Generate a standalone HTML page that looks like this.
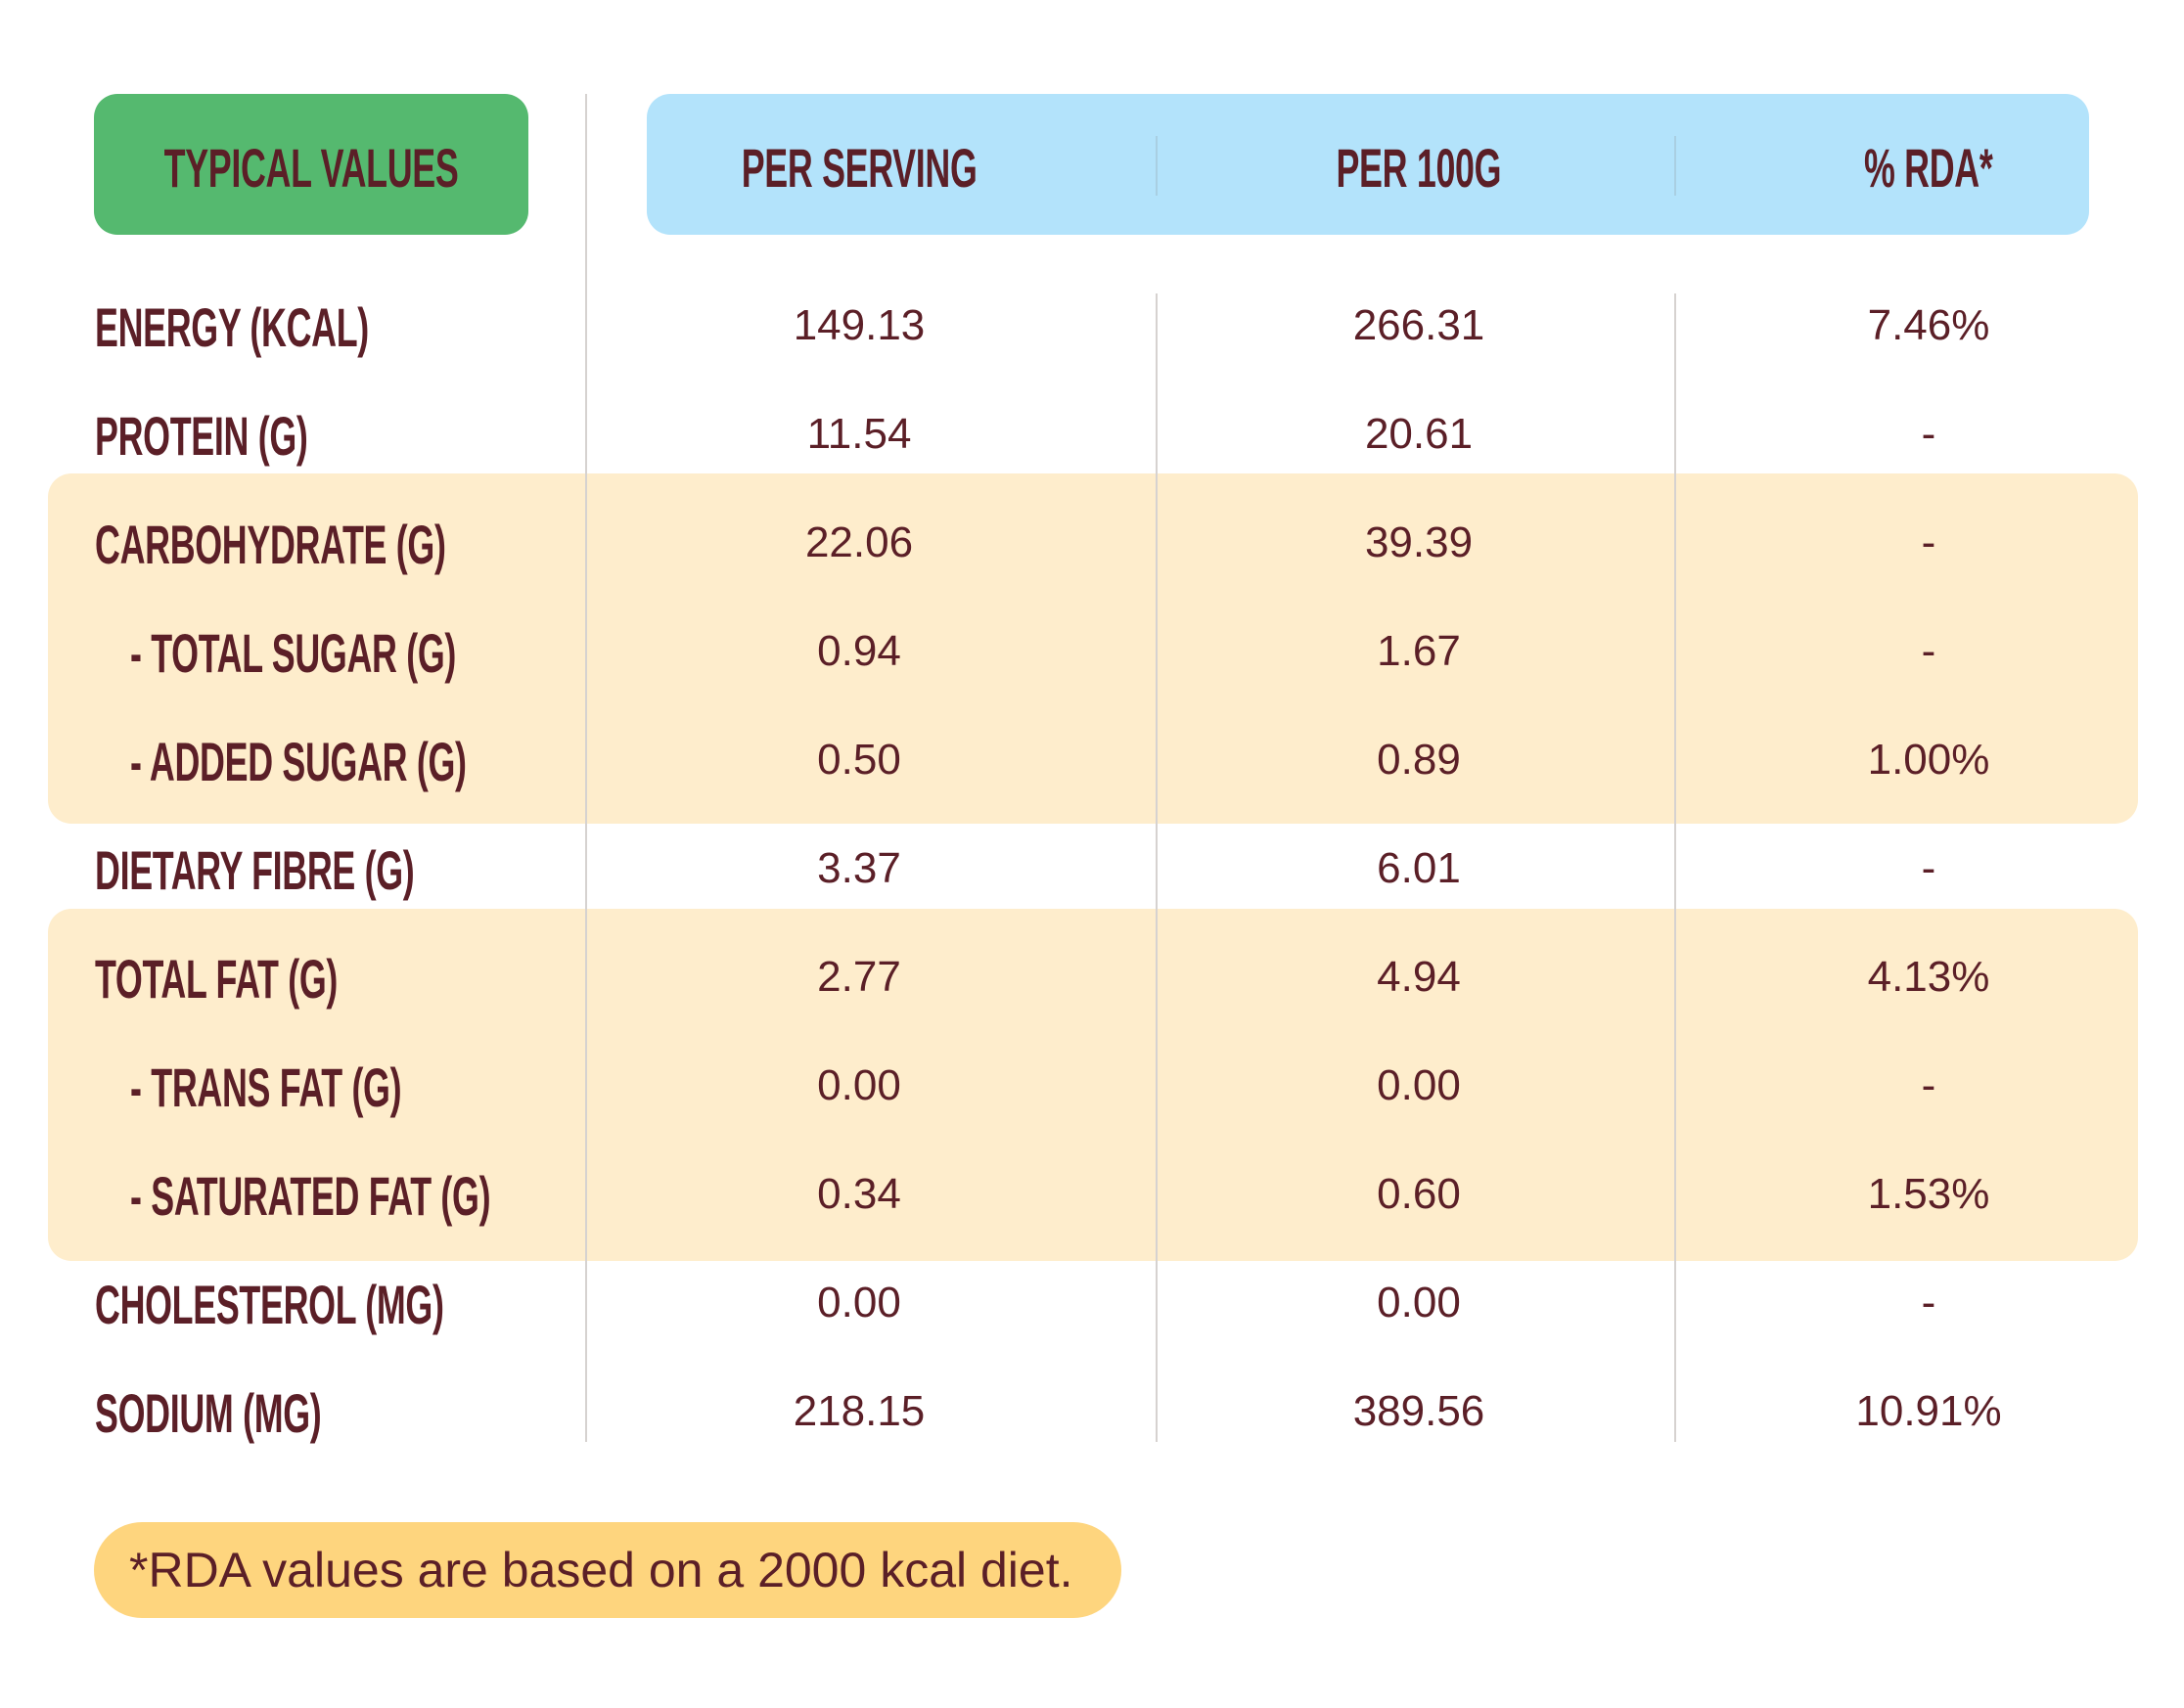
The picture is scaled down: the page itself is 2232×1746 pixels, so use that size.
<!DOCTYPE html>
<html><head><meta charset="utf-8"><style>
body{margin:0;width:2232px;height:1746px;background:#fff;position:relative;overflow:hidden;font-family:"Liberation Sans",sans-serif;color:#5b1f27}
.a{position:absolute}
.box{position:absolute;border-radius:24px}
.vl{position:absolute;width:2px;background:#d6d2d0}
.lab{position:absolute;height:60px;line-height:60px;font-weight:bold;font-size:56px;transform:scaleX(0.64);transform-origin:left center;white-space:nowrap;letter-spacing:-0.5px}
.hd{position:absolute;height:60px;line-height:60px;font-weight:bold;font-size:56px;white-space:nowrap;width:600px;text-align:center;letter-spacing:-0.5px}
.hd span{display:inline-block;transform:scaleX(0.64)}
.v{position:absolute;width:400px;height:60px;line-height:60px;text-align:center;font-size:44px;white-space:nowrap}
</style></head><body>
<div class="box" style="left:96px;top:96px;width:444px;height:144px;background:#55b96f"></div>
<div class="box" style="left:661px;top:96px;width:1474px;height:144px;background:#b3e3fb"></div>
<div class="box" style="left:49px;top:484px;width:2136px;height:358px;background:#feedcc"></div>
<div class="box" style="left:49px;top:929px;width:2136px;height:360px;background:#feedcc"></div>
<div class="box" style="left:96px;top:1556px;width:1050px;height:98px;background:#fed57e;border-radius:49px"></div>
<div class="vl" style="left:598px;top:96px;height:1378px"></div>
<div class="vl" style="left:1181px;top:139px;height:61px;background:#a9cfe2"></div>
<div class="vl" style="left:1711px;top:139px;height:61px;background:#a9cfe2"></div>
<div class="vl" style="left:1181px;top:300px;height:1174px"></div>
<div class="vl" style="left:1711px;top:300px;height:1174px"></div>
<div class="hd" style="left:18px;top:142px"><span>TYPICAL VALUES</span></div>
<div class="hd" style="left:578px;top:142px"><span>PER SERVING</span></div>
<div class="hd" style="left:1150px;top:142px"><span>PER 100G</span></div>
<div class="hd" style="left:1671px;top:142px"><span>% RDA*</span></div>

<div class="lab" style="left:97px;top:305px">ENERGY (KCAL)</div>
<div class="lab" style="left:97px;top:416px">PROTEIN (G)</div>
<div class="lab" style="left:97px;top:527px">CARBOHYDRATE (G)</div>
<div class="lab" style="left:133px;top:638px">- TOTAL SUGAR (G)</div>
<div class="lab" style="left:133px;top:749px">- ADDED SUGAR (G)</div>
<div class="lab" style="left:97px;top:860px">DIETARY FIBRE (G)</div>
<div class="lab" style="left:97px;top:971px">TOTAL FAT (G)</div>
<div class="lab" style="left:133px;top:1082px">- TRANS FAT (G)</div>
<div class="lab" style="left:133px;top:1193px">- SATURATED FAT (G)</div>
<div class="lab" style="left:97px;top:1304px">CHOLESTEROL (MG)</div>
<div class="lab" style="left:97px;top:1415px">SODIUM (MG)</div>

<div class="v" style="left:678px;top:303px">149.13</div><div class="v" style="left:1250px;top:303px">266.31</div><div class="v" style="left:1771px;top:303px">7.46%</div>
<div class="v" style="left:678px;top:414px">11.54</div><div class="v" style="left:1250px;top:414px">20.61</div><div class="v" style="left:1771px;top:414px">-</div>
<div class="v" style="left:678px;top:525px">22.06</div><div class="v" style="left:1250px;top:525px">39.39</div><div class="v" style="left:1771px;top:525px">-</div>
<div class="v" style="left:678px;top:636px">0.94</div><div class="v" style="left:1250px;top:636px">1.67</div><div class="v" style="left:1771px;top:636px">-</div>
<div class="v" style="left:678px;top:747px">0.50</div><div class="v" style="left:1250px;top:747px">0.89</div><div class="v" style="left:1771px;top:747px">1.00%</div>
<div class="v" style="left:678px;top:858px">3.37</div><div class="v" style="left:1250px;top:858px">6.01</div><div class="v" style="left:1771px;top:858px">-</div>
<div class="v" style="left:678px;top:969px">2.77</div><div class="v" style="left:1250px;top:969px">4.94</div><div class="v" style="left:1771px;top:969px">4.13%</div>
<div class="v" style="left:678px;top:1080px">0.00</div><div class="v" style="left:1250px;top:1080px">0.00</div><div class="v" style="left:1771px;top:1080px">-</div>
<div class="v" style="left:678px;top:1191px">0.34</div><div class="v" style="left:1250px;top:1191px">0.60</div><div class="v" style="left:1771px;top:1191px">1.53%</div>
<div class="v" style="left:678px;top:1302px">0.00</div><div class="v" style="left:1250px;top:1302px">0.00</div><div class="v" style="left:1771px;top:1302px">-</div>
<div class="v" style="left:678px;top:1413px">218.15</div><div class="v" style="left:1250px;top:1413px">389.56</div><div class="v" style="left:1771px;top:1413px">10.91%</div>

<div class="a" style="left:132px;top:1575px;height:60px;line-height:60px;font-size:50px;white-space:nowrap">*RDA values are based on a 2000 kcal diet.</div>
</body></html>
